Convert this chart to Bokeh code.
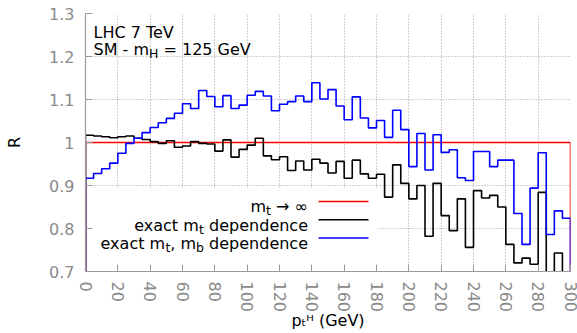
import numpy as np
from bokeh.plotting import figure
from bokeh.models import Range1d, FixedTicker, Label
from bokeh.embed import file_html
from bokeh.resources import INLINE

# ---------------- data ----------------
bin_edges = list(range(0, 305, 5))  # pT^H bins, GeV

r_heavy_top = [1.0] * 60

r_exact_mt = [
    1.017, 1.015, 1.0135, 1.011, 1.0135, 1.015, 1.010, 1.007, 1.002, 0.998,
    1.004, 0.989, 0.992, 1.002, 0.998, 0.9965, 0.980, 1.006, 0.966, 0.984,
    0.994, 1.010, 0.969, 0.960, 0.967, 0.935, 0.957, 0.936, 0.961, 0.952,
    0.929, 0.956, 0.917, 0.959, 0.927, 0.917, 0.926, 0.873, 0.948, 0.905,
    0.869, 0.900, 0.782, 0.905, 0.830, 0.795, 0.869, 0.756, 0.888, 0.871,
    0.877, 0.850, 0.763, 0.720, 0.731, 0.717, 0.884, 0.660, 0.743, 0.660,
]

r_exact_mt_mb = [
    0.917, 0.928, 0.939, 0.952, 0.975, 0.998, 1.010, 1.023, 1.035, 1.046,
    1.056, 1.068, 1.090, 1.079, 1.121, 1.107, 1.083, 1.109, 1.079, 1.087,
    1.110, 1.119, 1.108, 1.074, 1.089, 1.095, 1.108, 1.095, 1.139, 1.101,
    1.123, 1.085, 1.053, 1.106, 1.057, 1.034, 1.051, 1.012, 1.075, 1.030,
    0.944, 1.021, 0.936, 1.018, 0.977, 0.983, 0.918, 0.9115, 0.979, 0.979,
    0.944, 0.959, 0.959, 0.835, 0.763, 0.894, 0.976, 0.786, 0.841, 0.824,
]

x_ticks = list(range(0, 320, 20))
y_ticks = [0.7, 0.8, 0.9, 1.0, 1.1, 1.2, 1.3]
y_tick_labels = ["0.7", "0.8", "0.9", "1", "1.1", "1.2", "1.3"]

series_colors = ["#ff0000", "#000000", "#0000ff"]

# ---------------- layout ----------------
W, H = 577, 333
FL, FR, FT, FB = 85, 570, 13, 272      # frame edges in pixels
X0, X1, Y0, Y1 = 0, 300, 0.7, 1.3
FONT = "DejaVu Sans"
FS = 16.0
SUB = 12.5
GRAY_AXIS = "#9a9a9a"
GRAY_TXT = "#8a8a8a"


def gx(px):
    return X0 + (px - FL) / (FR - FL) * (X1 - X0)


def gy(py):
    return Y1 - (py - FT) / (FB - FT) * (Y1 - Y0)


ADV = {' ': 651, ',': 651, '-': 739, '.': 651, '=': 1716, '(': 799, ')': 799,
       '→': 1716, '∞': 1716, 'a': 1255, 'b': 1300, 'c': 1126, 'd': 1300,
       'e': 1260, 'm': 1995, 'n': 1298, 'p': 1300, 't': 803, 'x': 1212,
       'C': 1430, 'G': 1577, 'H': 1540, 'L': 1141, 'M': 1767, 'S': 1300,
       'T': 1251, 'V': 1401, 'R': 1423}
for d in "0123456789":
    ADV[d] = 1303


def tw(s, size):
    return sum(ADV.get(c, 1250) for c in s) / 2048.0 * size


def piece_size(kind):
    return FS if kind == "n" else SUB


def piece_dy(kind):
    return {"n": 0.0, "sub": 4.0, "sup": -6.0}[kind]


def rich(p, pieces, px, py, align="left", color="black"):
    total = sum(tw(t, piece_size(k)) for t, k in pieces)
    if align == "right":
        x = px - total
    elif align == "center":
        x = px - total / 2.0
    else:
        x = px
    for t, k in pieces:
        sz = piece_size(k)
        stripped = t.lstrip(" ")
        lead = tw(t[:len(t) - len(stripped)], sz)
        p.add_layout(Label(x=gx(x + lead), y=gy(py + piece_dy(k)), text=stripped,
                           text_font=FONT, text_font_size=f"{sz}px",
                           text_color=color, text_align="left",
                           text_baseline="alphabetic"))
        x += tw(t, sz)


p = figure(width=W, height=H, x_range=Range1d(X0, X1), y_range=Range1d(Y0, Y1),
           output_backend="svg", toolbar_location=None,
           min_border_left=FL, min_border_right=W - FR,
           min_border_top=FT, min_border_bottom=H - FB)
p.outline_line_color = None
p.background_fill_color = "white"
p.border_fill_color = "white"

for ax, ticks in ((p.xaxis[0], x_ticks), (p.yaxis[0], y_ticks)):
    ax.ticker = FixedTicker(ticks=ticks)
    ax.axis_line_color = GRAY_AXIS
    ax.axis_line_width = 1.2
    ax.major_tick_line_color = GRAY_AXIS
    ax.major_tick_in = 7
    ax.major_tick_out = 0
    ax.minor_tick_line_color = None
    ax.major_label_text_color = GRAY_TXT
    ax.major_label_text_font = FONT
    ax.major_label_text_font_size = f"{FS}px"
    ax.axis_label_text_font = FONT
    ax.axis_label_text_font_size = f"{FS}px"
    ax.axis_label_text_font_style = "normal"
    ax.axis_label_text_color = "black"

p.xaxis.major_label_orientation = "vertical"
p.xaxis.major_label_standoff = 10
p.xaxis.axis_label = "pₜᴴ (GeV)"
p.xaxis.axis_label_standoff = -4
p.yaxis.major_label_standoff = 11
p.yaxis.major_label_overrides = dict(zip(y_ticks, y_tick_labels))
p.yaxis.axis_label = "R"
p.yaxis.axis_label_standoff = 22

for g in (p.xgrid[0], p.ygrid[0]):
    g.grid_line_color = "#a0a0a0"
    g.grid_line_dash = "1 2"
    g.grid_line_width = 1

# legend background box (opaque, hides grid)
p.quad(left=[gx(FL + 1)], right=[gx(377)], bottom=[Y0], top=[gy(189)],
       fill_color="white", line_color=None)

# step histograms
edges = np.array(bin_edges, dtype=float)
xs = np.repeat(edges, 2)
for vals, col in zip([r_heavy_top, r_exact_mt, r_exact_mt_mb], series_colors):
    v = np.array(vals, dtype=float)
    ys = np.concatenate([[0.0], np.repeat(v, 2), [0.0]])
    p.line(xs, ys, line_color=col, line_width=1.6)

# legend
LEG_RIGHT = 307.5
LEG_ROWS = [201.7, 220.0, 238.3]
legend_texts = [
    [("m", "n"), ("t", "sub"), (" → ∞", "n")],
    [("exact m", "n"), ("t", "sub"), (" dependence", "n")],
    [("exact m", "n"), ("t", "sub"), (", m", "n"), ("b", "sub"), (" dependence", "n")],
]
for row_y, pieces, col in zip(LEG_ROWS, legend_texts, series_colors):
    rich(p, pieces, LEG_RIGHT, row_y + 5.5, align="right")
    p.line([gx(318), gx(368)], [gy(row_y), gy(row_y)], line_color=col, line_width=1.6)

# annotation
rich(p, [("LHC 7 TeV", "n")], 93, 32.3)
rich(p, [("SM - m", "n"), ("H", "sub"), (" = 125 GeV", "n")], 93, 49.3)

open("out.html", "w").write(file_html(p, INLINE))
